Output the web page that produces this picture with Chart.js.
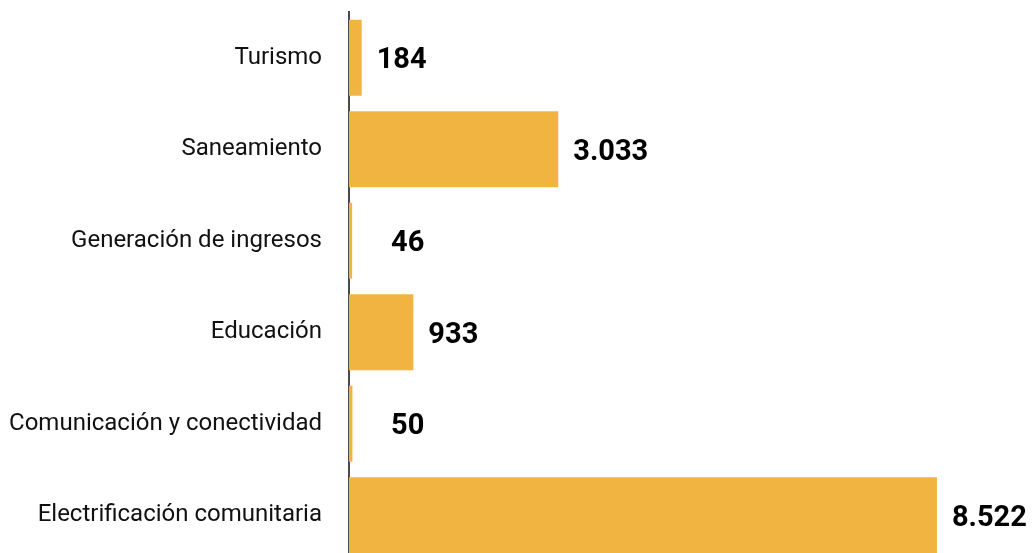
<!DOCTYPE html>
<html>
<head>
<meta charset="utf-8">
<script src="https://cdn.jsdelivr.net/npm/chart.js@4"></script>
<style>
  html, body { margin: 0; padding: 0; background: #fff; overflow: hidden; }
  .wrap { position: relative; width: 1032px; height: 561px; }
</style>
</head>
<body>
<div class="wrap"><canvas id="barChart"></canvas></div>
<script>
const categories = ['Turismo', 'Saneamiento', 'Generación de ingresos', 'Educación', 'Comunicación y conectividad', 'Electrificación comunitaria'];
const values = [184, 3033, 46, 933, 50, 8522];
const xMax = 9900;

function fmt(v) {
    return String(v).replace(/\B(?=(\d{3})+(?!\d))/g, '.');
}

// value labels to the right of each bar (tiny bars get a little extra room)
const valueLabels = {
    id: 'valueLabels',
    afterDatasetsDraw(chart) {
        const ctx = chart.ctx;
        const meta = chart.getDatasetMeta(0);
        const left = chart.chartArea.left;
        ctx.save();
        ctx.font = 'bold 29px Roboto, sans-serif';
        ctx.fillStyle = '#000';
        ctx.textAlign = 'left';
        ctx.textBaseline = 'middle';
        meta.data.forEach((bar, i) => {
            let x = bar.x + 15;
            if (x < left + 25) x = left + 42;
            ctx.fillText(fmt(values[i]), x, bar.y + 3);
        });
        ctx.restore();
    }
};

new Chart(document.getElementById('barChart'), {
    type: 'bar',
    data: {
        labels: categories,
        datasets: [{
            data: values,
            backgroundColor: '#F2B441',
            categoryPercentage: 1,
            barPercentage: 0.83
        }]
    },
    options: {
        indexAxis: 'y',
        responsive: true,
        maintainAspectRatio: false,
        animation: false,
        layout: { padding: { top: 12, right: 0, bottom: 0, left: 0 } },
        plugins: { legend: { display: false }, tooltip: { enabled: false } },
        scales: {
            x: { display: false, min: 0, max: xMax },
            y: {
                grid: { display: false },
                border: { display: true, color: '#4a4a4a', width: 2 },
                afterFit(scale) {
                    scale.width = 349;
                    scale.paddingTop = 0;
                    scale.paddingBottom = 0;
                },
                ticks: {
                    padding: 19,
                    color: '#111',
                    font: { family: 'Roboto, sans-serif', size: 24, weight: 400 }
                }
            }
        }
    },
    plugins: [valueLabels]
});
</script>
</body>
</html>
